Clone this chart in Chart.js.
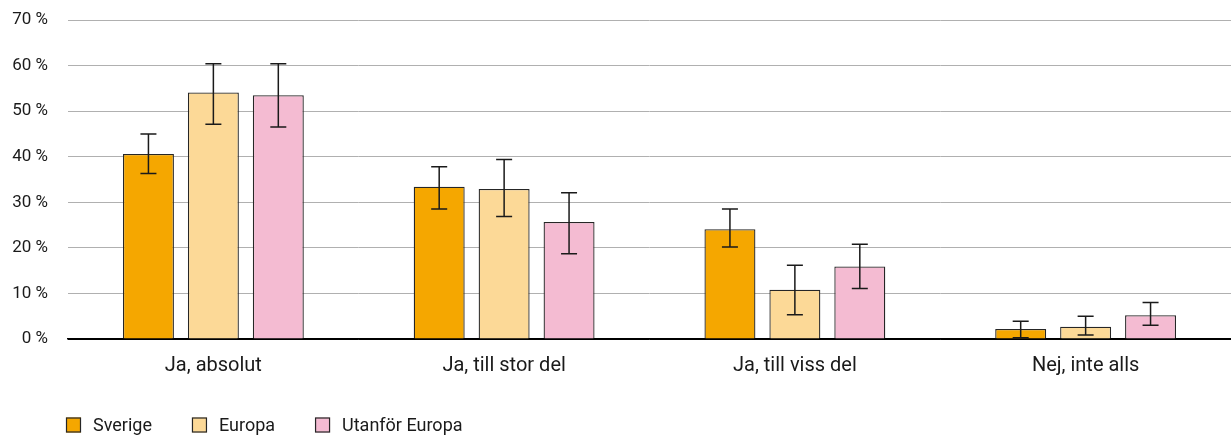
<!DOCTYPE html>
<html>
<head>
<meta charset="utf-8">
<script src="https://cdn.jsdelivr.net/npm/chart.js@4"></script>
<style>
  html, body { margin: 0; padding: 0; background: #fff; }
  #wrap { width: 1231px; height: 437px; }
</style>
</head>
<body>
<div id="wrap"><canvas id="chart"></canvas></div>
<script>
// Data (percent)
const categories = ['Ja, absolut', 'Ja, till stor del', 'Ja, till viss del', 'Nej, inte alls'];
const seriesNames = ['Sverige', 'Europa', 'Utanför Europa'];
const sverige = [40.6, 33.4, 24.1, 2.2];
const europa = [54.1, 32.9, 10.8, 2.7];
const utanfor = [53.5, 25.7, 15.9, 5.2];

// Confidence intervals (low / high)
const sverigeLow = [36.3, 28.5, 20.2, 0.3];
const sverigeHigh = [45.0, 37.8, 28.5, 3.9];
const europaLow = [47.1, 26.9, 5.3, 0.9];
const europaHigh = [60.4, 39.4, 16.2, 5.0];
const utanforLow = [46.5, 18.7, 11.1, 3.0];
const utanforHigh = [60.4, 32.1, 20.8, 8.0];

const yTicks = [0, 10, 20, 30, 40, 50, 60, 70];
const colors = ['#f5a700', '#fcd997', '#f4bbd2'];

const values = [sverige, europa, utanfor];
const lows = [sverigeLow, europaLow, utanforLow];
const highs = [sverigeHigh, europaHigh, utanforHigh];

const FONT = 'Roboto, "Noto Sans", sans-serif';

// Error bars drawn on top of the bars
const errorBars = {
    id: 'errorBars',
    afterDatasetsDraw(chart) {
        const ctx = chart.ctx;
        const y = chart.scales.y;
        ctx.save();
        ctx.strokeStyle = '#1a1a1a';
        ctx.lineWidth = 1.5;
        chart.data.datasets.forEach((ds, i) => {
            const meta = chart.getDatasetMeta(i);
            meta.data.forEach((bar, j) => {
                const top = y.getPixelForValue(ds.high[j]);
                const bottom = y.getPixelForValue(ds.low[j]);
                const half = 8;
                ctx.beginPath();
                ctx.moveTo(bar.x, top);
                ctx.lineTo(bar.x, bottom);
                ctx.moveTo(bar.x - half, top);
                ctx.lineTo(bar.x + half, top);
                ctx.moveTo(bar.x - half, bottom);
                ctx.lineTo(bar.x + half, bottom);
                ctx.stroke();
            });
        });
        ctx.restore();
    }
};

// Legend at the bottom left, under the plot
const bottomLegend = {
    id: 'bottomLegend',
    afterDraw(chart) {
        const ctx = chart.ctx;
        ctx.save();
        ctx.font = '18px ' + FONT;
        ctx.textBaseline = 'middle';
        let x = 66;
        const cy = 425;
        chart.data.datasets.forEach(ds => {
            ctx.fillStyle = ds.backgroundColor;
            ctx.fillRect(x, cy - 7.5, 15, 15);
            ctx.strokeStyle = '#262626';
            ctx.lineWidth = 1.2;
            ctx.strokeRect(x + 0.5, cy - 7, 14, 14);
            ctx.fillStyle = '#1a1a1a';
            ctx.fillText(ds.label, x + 27, cy + 1);
            x += 27 + ctx.measureText(ds.label).width + 40;
        });
        ctx.restore();
    }
};

new Chart(document.getElementById('chart'), {
    type: 'bar',
    data: {
        labels: categories,
        datasets: seriesNames.map((name, i) => ({
            label: name,
            data: values[i],
            low: lows[i],
            high: highs[i],
            backgroundColor: colors[i],
            borderColor: '#262626',
            borderWidth: 1.3,
            categoryPercentage: 0.67,
            barPercentage: 0.785
        }))
    },
    options: {
        responsive: true,
        maintainAspectRatio: false,
        animation: false,
        layout: { padding: { top: 20, right: 0, bottom: 52, left: 0 } },
        plugins: {
            legend: { display: false },
            tooltip: { enabled: false }
        },
        scales: {
            x: {
                grid: { display: false },
                border: { display: true, color: '#000', width: 1.5 },
                ticks: { color: '#1a1a1a', font: { family: FONT, size: 20 }, padding: 7 }
            },
            y: {
                min: 0,
                max: 70,
                afterFit: scale => { scale.width = 68; },
                afterBuildTicks: scale => { scale.ticks = yTicks.map(v => ({ value: v })); },
                grid: {
                    color: c => c.tick && c.tick.value === 0 ? '#000' : '#b0b0b0',
                    lineWidth: 1,
                    drawTicks: true,
                    tickLength: 20,
                    tickColor: 'rgba(0,0,0,0)'
                },
                border: { display: false },
                ticks: {
                    color: '#1a1a1a',
                    font: { family: FONT, size: 17 },
                    padding: 0,
                    callback: v => v + ' %'
                }
            }
        }
    },
    plugins: [errorBars, bottomLegend]
});
</script>
</body>
</html>
